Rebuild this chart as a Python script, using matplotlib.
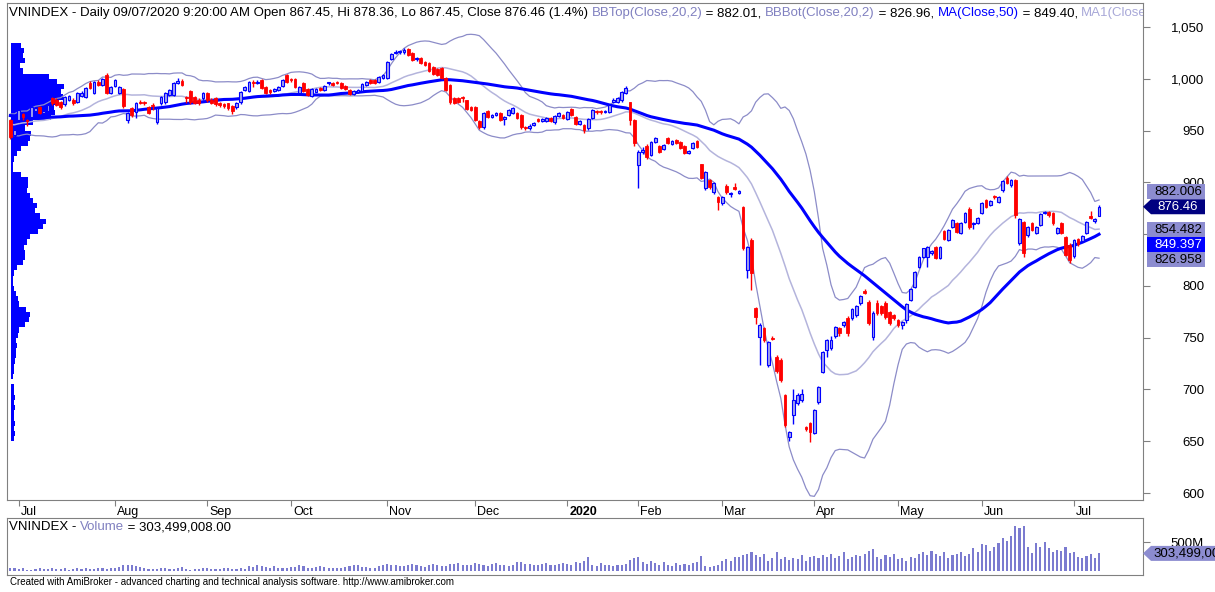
import numpy as np
import pandas as pd
import matplotlib
matplotlib.use("Agg")
import matplotlib.pyplot as plt
from matplotlib import transforms
from matplotlib.patches import Polygon

plt.rcParams["font.family"] = ["Liberation Sans", "DejaVu Sans"]

W, H = 1215, 592

# trading calendar (HOSE holidays removed)
holidays = ["2019-09-02", "2020-01-01", "2020-01-23", "2020-01-24", "2020-01-27",
            "2020-01-28", "2020-01-29", "2020-04-02", "2020-04-30", "2020-05-01"]

# daily OHLC, 27 Jun 2019 .. 09 Jul 2020, grouped by month
opens = [960, 945.7,
         960, 966, 960.5, 963, 969, 973, 967, 969, 981, 980, 977.6, 975.6, 980, 980, 978, 983, 982.4, 996, 986.3, 997, 994, 1003.7, 986.3,
         993, 986, 990, 960, 972, 968, 978, 978, 972.8, 975, 958.3, 976.6, 977.6, 984, 984, 996, 998, 982, 988, 982, 979.5, 981.4,
         986, 979.5, 981, 977, 976, 976.6, 973.7, 972.8, 977.6, 989, 988, 997, 996, 999, 992, 989, 988, 989, 993, 1003.7,
         1000, 1000, 986, 996, 990, 983, 987.5, 991, 989, 995.5, 996, 997, 996, 993, 989, 985, 987, 988, 994, 999, 999, 997, 1001,
         1001, 1019, 1025, 1025.5, 1025.5, 1029, 1025, 1019, 1020, 1016, 1015, 1011, 1009, 1010, 1001, 994, 981, 981, 982.5, 979.5, 973,
         973, 959, 953.4, 969, 963, 965, 967, 961, 965, 967, 967, 965, 953.4, 952.5, 955.5, 961, 959, 959, 962, 958, 964, 965,
         961, 971, 963, 956, 955.4, 952.5, 962, 969, 969, 968, 968, 977.6, 978, 979.5, 986, 977.6, 960,
         917, 929, 935, 926, 939, 935, 932, 943, 937, 941, 939, 935, 928, 933, 940, 917.7, 894.5, 902, 890.7, 886,
         880, 896.5, 889, 896, 890, 876, 815.4, 844, 778.7, 750.6, 759, 723.6, 750, 731, 728.5, 694.7, 654, 675, 687, 690, 664, 668,
         658, 688, 717, 738, 740, 752, 759, 762, 769, 769, 772, 784, 795.5, 784.4, 750.6, 784, 781, 784, 775, 772,
         767, 762, 767, 786.4, 799, 818, 828, 828, 832, 837.6, 827, 853, 844, 857, 860.7, 851, 862, 874, 860, 861,
         870, 883, 878, 886.5, 881, 892.6, 904, 897, 902, 841.4, 861.7, 849, 860.7, 851, 859, 870, 871, 870, 851, 860.7, 847, 839.5,
         829, 845, 843, 851, 868, 862.5, 867.45]
highs = [961, 951.5,
         971, 967, 961.5, 974, 973, 974, 970, 976, 982, 981, 979, 983, 984, 981, 987, 988, 992, 998, 998, 999, 1001, 1006, 993,
         1000, 993, 991, 968, 973, 978, 980, 979, 974, 977, 973, 983, 987, 990, 997, 1001, 1000, 983, 989, 983, 981, 987,
         987, 981, 982, 978, 977, 977, 975, 978, 988, 993, 998, 999, 999, 1000, 993, 990, 991, 993, 1000, 1005,
         1001, 1001, 993, 997, 991, 991, 991, 992, 994, 997, 997, 998, 997, 994, 990, 989, 990, 996, 998, 1000, 1000, 1003, 1005,
         1017, 1025, 1028, 1028, 1030, 1030, 1026, 1021, 1021, 1017, 1016, 1012, 1010, 1011, 1002, 995, 982, 982, 983, 980, 974,
         974, 960, 968, 970, 966, 968, 968, 964, 971, 973, 968, 966, 954, 956, 958, 962, 962, 963, 963, 965, 968, 966,
         969, 972, 964, 960, 956, 962, 971, 970, 970, 970, 976, 981, 982, 988, 993, 978, 961,
         931, 934, 937, 940, 944, 936, 937, 944, 941, 942, 940, 936, 931, 939, 941, 918, 911, 903, 900, 887,
         887, 898, 891, 899, 893, 877, 839, 846, 780, 764, 760, 747, 752, 733, 730, 696, 660, 700, 697, 700, 665, 669,
         681, 703, 737, 749, 752, 761, 760, 766, 771, 779, 782, 791, 797, 786, 776, 786, 782, 785, 776, 773,
         768, 766, 784, 798, 814, 829, 837, 839, 835, 839, 839, 854, 855, 864.6, 862, 862, 871, 876, 862, 867,
         881, 884, 883, 888, 887, 902, 906, 903, 903, 866, 863, 858, 862, 858, 870.5, 872, 872, 871, 856.5, 862, 848, 841,
         845, 846, 849, 863, 872, 866, 878.36]
lows = [942, 944,
        958, 960, 954, 962, 967, 966, 965, 968, 975, 974, 971, 974, 979, 975, 977, 982, 981, 990, 985, 993, 993, 985, 985,
        992, 985, 972, 957, 963, 962, 976, 975, 966, 970, 956, 975, 976, 983, 983, 995, 993, 977, 976, 976, 975, 980,
        978, 976, 974, 973, 972, 970, 966, 971, 976, 988, 987, 992, 995, 990, 985, 985, 987, 988, 992, 996,
        997, 991, 985, 987, 983, 982, 987, 988, 988, 994, 993, 995, 990, 989, 984, 984, 986, 987, 993, 995, 995, 996, 1000,
        1000, 1018, 1024, 1024, 1024, 1022, 1017, 1017, 1014, 1012, 1007, 1004, 1003, 1000, 988, 976, 976, 977, 978, 970, 969,
        959, 952, 952, 962, 962, 964, 959, 955, 964, 966, 961, 952, 951, 951, 954, 958, 958, 958, 958, 956, 963, 961,
        960, 964, 955, 955, 948, 951, 961, 966, 966, 967, 967, 977, 977, 978, 985, 955, 935,
        894.5, 927, 923, 925, 938, 928, 931, 937, 936, 937, 932, 927, 927, 932, 933, 903, 893, 894, 889, 873,
        878, 889, 886, 893, 889, 835, 807.6, 796, 763, 723.6, 746, 722, 748, 716, 707, 664, 650, 667, 685, 688, 660, 649,
        657, 686, 716, 731, 738, 750, 752, 760, 752, 767, 770, 782, 792, 762, 748, 772, 772, 768, 762, 767,
        760, 758, 764, 785, 798, 817, 827, 818, 830, 826, 826, 844, 843, 856, 851, 850, 861, 855, 855, 860,
        869, 875, 877, 884, 880, 891, 898, 896, 866, 840, 828, 847, 853, 850, 858, 869, 867, 859, 850, 850, 829, 822,
        827, 839, 842, 850, 865, 861, 867.45]
closes = [944, 950.5,
          970, 963, 959, 973, 972, 967, 969, 975, 976.6, 975, 972.8, 982.4, 983, 976.6, 986, 986, 991, 991, 997, 994, 1000, 986.3, 992,
          999, 992, 973.6, 967, 965, 977, 976.5, 976.5, 967, 974, 972, 982.4, 986.3, 989, 996, 998, 994, 981.5, 977.6, 977, 976.6, 986.3,
          979.5, 977, 975.6, 974.7, 973.7, 971.8, 968.9, 976.6, 987, 992, 997, 996, 997, 991, 986, 987, 990, 992, 999, 997,
          998.8, 992, 992, 988, 984, 990, 990, 989, 993, 996.5, 994, 996, 991, 990, 985, 988, 989, 995, 997, 996, 996, 1002, 1004,
          1016, 1024, 1026, 1027, 1028, 1023, 1018, 1020, 1015, 1013, 1008, 1005, 1003.7, 1001, 989, 977.6, 977, 978, 981.5, 971, 970,
          960, 953.4, 967, 963, 965, 967, 960, 963, 970, 972, 962, 953.4, 952.5, 954.4, 957.3, 959, 961, 962, 959, 964, 967, 962,
          968, 965, 956, 959, 950.5, 961, 970, 967.5, 967.5, 969, 975, 980, 981, 987, 991.5, 960, 938,
          929, 931, 924.5, 939, 943, 929.3, 936, 938, 940, 938, 933, 928, 930, 938, 934, 904, 910, 895.5, 899, 881,
          886, 890.7, 890, 894, 891.5, 836.6, 837.6, 812.5, 770, 762, 747.8, 745.8, 749, 718, 709, 665.7, 659, 690, 694.7, 695.7, 662, 659,
          680, 702, 736, 748, 748, 760, 754.5, 765, 754.5, 777.7, 780.6, 790, 793.5, 764, 774, 774, 774, 770, 764, 769,
          762, 765, 782.5, 797, 813, 828, 836.6, 837.6, 834, 827, 837.6, 845, 854, 863.6, 852, 860.7, 870, 856.8, 861, 865.6,
          880, 876, 882, 885.5, 886, 901, 899, 902, 868.5, 864.6, 832, 857, 854, 857, 869.5, 871, 868.5, 860.7, 855.5, 851, 830, 825,
          844.3, 840.5, 848, 861.7, 866, 865, 876.46]

# volume in millions of shares
volumes_m = [60, 45,
             35, 55, 25, 20, 40, 45, 30, 35, 50, 40, 30, 45, 20, 30, 45, 40, 50, 35, 30, 45, 60, 35, 45,
             50, 75, 95, 100, 110, 85, 70, 45, 40, 30, 35, 60, 50, 35, 30, 60, 75, 40, 25, 35, 30, 50,
             45, 40, 35, 30, 50, 45, 35, 40, 50, 40, 85, 65, 100, 90, 75, 60, 80, 50, 45, 60,
             65, 75, 95, 90, 60, 55, 70, 80, 65, 60, 55, 55, 50, 65, 80, 95, 105, 70, 65, 60, 55, 85, 100,
             120, 95, 110, 80, 85, 100, 115, 95, 90, 75, 110, 120, 100, 85, 90, 115, 125, 130, 105, 100, 95,
             140, 115, 100, 90, 120, 130, 100, 105, 90, 95, 150, 160, 125, 115, 95, 105, 120, 130, 100, 110, 115, 130,
             120, 110, 150, 130, 180, 250, 100, 90, 130, 110, 100, 85, 95, 110, 120, 190, 230,
             250, 160, 120, 170, 140, 110, 150, 100, 90, 130, 110, 120, 100, 140, 150, 260, 80, 70, 90, 110,
             170, 210, 180, 250, 240, 280, 300, 330, 270, 250, 300, 180, 220, 320, 200, 250, 190, 230, 210, 270, 180, 240,
             260, 230, 280, 250, 300, 220, 260, 330, 200, 240, 280, 260, 300, 350, 380, 250, 200, 270, 240, 300,
             200, 220, 180, 250, 230, 300, 330, 280, 350, 300, 260, 320, 230, 280, 290, 330, 260, 300, 400, 320,
             460, 440, 350, 410, 490, 570, 520, 610, 780, 740, 780, 410, 310, 490, 410, 500, 390, 330, 370, 350, 420, 310,
             330, 250, 220, 260, 300, 230, 303.499008]

# closes before the visible window (only used to seed the averages)
warmup_closes = [975, 978, 972, 968, 970, 974, 979, 982, 977, 973,
                 969, 966, 964, 968, 972, 975, 978, 980, 976, 971,
                 967, 963, 960, 962, 966, 969, 971,
                 965, 961, 957, 953, 950, 948, 952, 956, 959, 961,
                 963, 960, 957, 954, 951, 955, 958, 962, 964, 960,
                 956, 953]

# volume-at-price profile (5-point bins starting at 650)
profile_len = [3, 4, 3, 4, 3, 3, 4, 3, 4, 3,
               3, 0, 2, 3, 3, 4, 5, 5, 6, 5,
               7, 8, 14, 18, 19, 15, 8, 7, 5, 3,
               2, 2, 3, 6, 12, 14, 14, 13, 16, 19,
               27, 32, 35, 29, 24, 26, 22, 19, 16, 17,
               17, 10, 2, 2, 3, 6, 10, 17, 19, 20,
               14, 22, 40, 44, 43, 48, 52, 50, 53, 46,
               38, 12, 9, 14, 12, 13, 10]

# values printed by the chart
last_bbtop, last_bbbot, last_ma50, last_mid = 882.006, 826.958, 849.397, 854.482

dates = pd.bdate_range("2019-06-27", "2020-07-09")
dates = dates[~dates.isin(pd.to_datetime(holidays))]

o = np.array(opens, float)
h = np.array(highs, float)
lo = np.array(lows, float)
c = np.array(closes, float)
vol = np.array(volumes_m, float) * 1e6
n = len(c)
assert len(o) == len(h) == len(lo) == n == len(vol) == len(dates)
x = np.arange(n)

full = pd.Series(warmup_closes + closes, dtype=float)
mid = full.rolling(20).mean().values[-n:]
sd = full.rolling(20).std(ddof=0).values[-n:]
bb_top = mid + 2 * sd
bb_bot = mid - 2 * sd
ma50 = full.rolling(50).mean().values[-n:]

fig = plt.figure(figsize=(W / 100, H / 100), dpi=100)
fig.patch.set_facecolor("white")


def px_rect(x0, y0, x1, y1):
    return [x0 / W, 1 - y1 / H, (x1 - x0) / W, (y1 - y0) / H]


grey = "#808080"
ax = fig.add_axes(px_rect(7, 3, 1143, 500))
axv = fig.add_axes(px_rect(7, 518, 1143, 575))
xlim = (-0.8, 270.5)

# volume profile behind the price bars
axp = ax.twiny()
axp.barh(np.arange(650, 1035, 5), profile_len, height=5, align="edge",
         color="#0000ff", linewidth=0)
axp.set_xlim(-3.7, 1132.3)
axp.set_xticks([])
for s in axp.spines.values():
    s.set_visible(False)
axp.set_zorder(1)
ax.set_zorder(2)
ax.patch.set_visible(False)

ax.set_xlim(*xlim)
ax.set_ylim(593.3, 1073.2)

ax.plot(x, bb_top, color="#8c8cc8", lw=0.9, zorder=2)
ax.plot(x, bb_bot, color="#8c8cc8", lw=0.9, zorder=2)
ax.plot(x, mid, color="#b4b4dc", lw=1.1, zorder=2)
ax.plot(x, ma50, color="#0000ff", lw=2.2, zorder=3)

up = c >= o
ax.vlines(x, lo, h, colors=np.where(up, "#0000ff", "#ff0000"), lw=1, zorder=4)
ax.bar(x[up], (c - o)[up], bottom=o[up], width=0.66, facecolor="#a4a4ee",
       edgecolor="#0000ff", linewidth=0.8, zorder=5)
ax.bar(x[~up], (o - c)[~up], bottom=c[~up], width=0.66, facecolor="#ff0000",
       edgecolor="#ff0000", linewidth=0.6, zorder=5)

for s in ax.spines.values():
    s.set_color(grey)
ax.yaxis.tick_right()
ax.set_yticks(range(600, 1051, 50))
ax.set_yticklabels([f"{v:,}" for v in range(600, 1051, 50)])
ax.tick_params(axis="y", length=5, color=grey, labelsize=9.5, pad=39)
for tk in ax.yaxis.get_major_ticks():
    tk.label2.set_horizontalalignment("right")

# month ticks at the first bar of every month
month_pos = [i for i in range(1, n) if dates[i].month != dates[i - 1].month]
month_lbl = [("2020" if dates[i].month == 1 else dates[i].strftime("%b")) for i in month_pos]
ax.set_xticks(month_pos)
ax.set_xticklabels(month_lbl)
ax.tick_params(axis="x", length=4, color=grey, labelsize=9, pad=0)
shift = transforms.ScaledTranslation(2 / 100, 0, fig.dpi_scale_trans)
for lbl in ax.get_xticklabels():
    lbl.set_horizontalalignment("left")
    lbl.set_transform(lbl.get_transform() + shift)
    if lbl.get_text() == "2020":
        lbl.set_fontweight("bold")

# volume pane
axv.bar(x, vol, width=0.5, color="#7b7bd0", linewidth=0)
axv.set_xlim(*xlim)
axv.set_ylim(-69e6, 914e6)
axv.set_xticks([])
axv.yaxis.tick_right()
axv.set_yticks([500e6])
axv.set_yticklabels(["500M"])
axv.tick_params(axis="y", length=5, color=grey, labelsize=9.5, pad=39)
for tk in axv.yaxis.get_major_ticks():
    tk.label2.set_horizontalalignment("right")
for s in axv.spines.values():
    s.set_color(grey)

renderer = fig.canvas.get_renderer()


def chain_text(x_px, y_px, parts, size, clip_ax=None):
    probe = fig.text(0, 0, "|", fontsize=size)
    bar_w = probe.get_window_extent(renderer).width
    acc = ""
    for s, col in parts:
        off = 0
        if acc:
            probe.set_text(acc + "|")
            off = probe.get_window_extent(renderer).width - bar_w
        t = fig.text((x_px + off) / W, 1 - y_px / H, s, color=col, fontsize=size,
                     va="center", ha="left")
        if clip_ax is not None:
            t.set_clip_box(clip_ax.bbox)
            t.set_clip_on(True)
        acc += s
    probe.remove()


lav = "#8080c0"
chain_text(9, 13, [
    ("VNINDEX - Daily 09/07/2020 9:20:00 AM Open 867.45, Hi 878.36, Lo 867.45, Close 876.46 (1.4%) ", "black"),
    ("BBTop(Close,20,2)", lav), (f" = {last_bbtop:.2f}, ", "black"),
    ("BBBot(Close,20,2)", lav), (f" = {last_bbbot:.2f}, ", "black"),
    ("MA(Close,50)", "#0000ff"), (f" = {last_ma50:.2f}, ", "black"),
    ("MA1(Close,20)", "#a8a8d8"), (f" = {last_mid:.2f}", "black"),
], 9.55, clip_ax=ax)

chain_text(9, 527, [("VNINDEX - ", "black"), ("Volume", lav),
                    (" = 303,499,008.00", "black")], 9.5)

fig.text(10 / W, 1 - 582 / H,
         "Created with AmiBroker - advanced charting and technical analysis software. http://www.amibroker.com",
         fontsize=7, va="center", ha="left")


def tag(y_disp, text, bg, fg, arrow, x0=1147, x1=1205, hh=7.5):
    # y_disp in display pixels (origin bottom-left); drawn over the axis labels
    if arrow:
        pts = [(1143, y_disp), (x0 + 4, y_disp + hh), (x1, y_disp + hh),
               (x1, y_disp - hh), (x0 + 4, y_disp - hh)]
    else:
        pts = [(x0, y_disp - hh), (x0, y_disp + hh), (x1, y_disp + hh), (x1, y_disp - hh)]
    pts = [(px / W, py / H) for px, py in pts]
    fig.add_artist(Polygon(pts, closed=True, transform=fig.transFigure,
                           facecolor=bg, edgecolor="none", zorder=10))
    fig.text((x0 + x1) / 2 / W + 2 / W, y_disp / H, text, color=fg, fontsize=9.5,
             ha="center", va="center", zorder=11)


# value tags on the right axis, pushed apart so they do not overlap
tags = [(last_bbtop, f"{last_bbtop:.3f}", "#8c8cd0", "black", False),
        (c[-1], f"{c[-1]:.2f}", "#000080", "white", True),
        (last_mid, f"{last_mid:.3f}", "#8c8cd0", "black", False),
        (last_ma50, f"{last_ma50:.3f}", "#0000ff", "white", False),
        (last_bbbot, f"{last_bbbot:.3f}", "#8c8cd0", "black", False)]
ys = [ax.transData.transform((0, t[0]))[1] for t in tags]
gap = 15
anchor = 1
for k in range(anchor - 1, -1, -1):
    ys[k] = max(ys[k], ys[k + 1] + gap)
for k in range(anchor + 1, len(tags)):
    ys[k] = min(ys[k], ys[k - 1] - gap)
for (v, txt, bg, fg, arr), yd in zip(tags, ys):
    tag(yd, txt, bg, fg, arr)

yv = axv.transData.transform((0, vol[-1]))[1]
pts = [(1143, yv), (1151, yv + 7.5), (1216, yv + 7.5), (1216, yv - 7.5), (1151, yv - 7.5)]
fig.add_artist(Polygon([(px / W, py / H) for px, py in pts], closed=True,
                       transform=fig.transFigure, facecolor="#8c8cd0", edgecolor="none", zorder=10))
fig.text(1153 / W, yv / H, "303,499,008", color="black", fontsize=9.5, ha="left", va="center",
         zorder=11)

fig.savefig("out.png", dpi=100)
